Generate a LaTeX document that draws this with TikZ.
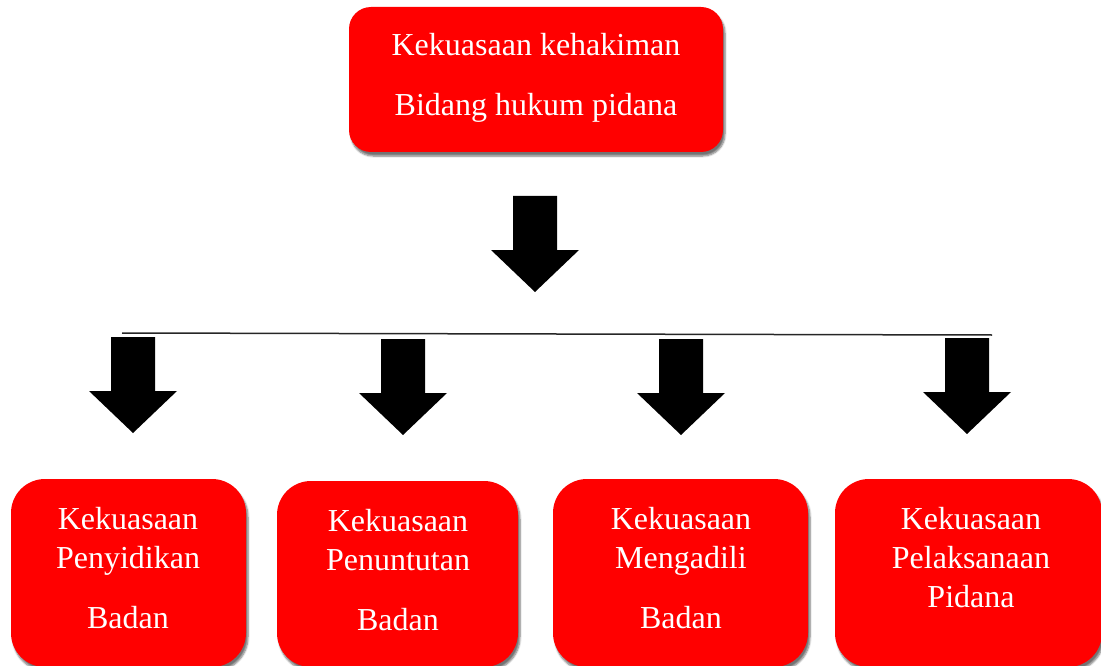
\documentclass[tikz,border=0pt]{standalone}
\usepackage{fontspec}
\setmainfont{Liberation Serif}
\usetikzlibrary{shadows.blur}
\begin{document}
\begin{tikzpicture}[x=1pt,y=-1pt,
  box/.style={fill=red, draw=none, inner sep=0pt, rounded corners=#1,
    blur shadow={shadow xshift=2pt, shadow yshift=-4pt, shadow blur steps=6, shadow opacity=55}},
  txt/.style={text=white, font=\fontsize{32}{39}\selectfont, align=center, inner sep=0pt, anchor=north},
  fatarrow/.pic={\fill[black] (-22,0) -- (22,0) -- (22,54) -- (44,54) -- (0,96) -- (-44,54) -- (-22,54) -- cycle;}
]
\useasboundingbox (0,0) rectangle (1101,666);

% top box
\node[box=22pt, minimum width=374pt, minimum height=145pt] (top) at (536,79.5) {};
\node[txt] (toptext) at (536,33) {Kekuasaan kehakiman\\[21pt]Bidang hukum pidana};

% big arrow
\pic at (535,196) {fatarrow};

% horizontal line
\coordinate (hl) at (122,333);
\coordinate (hr) at (992,335);
\draw[line width=1.5pt, black!85] (hl) -- (hr);

% small arrows
\pic at (133,337) {fatarrow};
\pic at (403,339) {fatarrow};
\pic at (681,339) {fatarrow};
\pic at (967,338) {fatarrow};

% bottom boxes
\node[box=34pt, minimum width=235pt, minimum height=188pt] (b1) at (128.5,573) {};
\node[box=34pt, minimum width=241pt, minimum height=186pt] (b2) at (397.5,574) {};
\node[box=34pt, minimum width=255pt, minimum height=188pt] (b3) at (680.5,573) {};
\node[box=34pt, minimum width=267pt, minimum height=188pt] (b4) at (968.5,573) {};

\node[txt] (t1) at (128,507) {Kekuasaan\\Penyidikan\\[21pt]Badan};
\node[txt] (t2) at (398,509) {Kekuasaan\\Penuntutan\\[21pt]Badan};
\node[txt] (t3) at (681,507) {Kekuasaan\\Mengadili\\[21pt]Badan};
\node[txt] (t4) at (971,507) {Kekuasaan\\Pelaksanaan\\Pidana};
\end{tikzpicture}
\end{document}
